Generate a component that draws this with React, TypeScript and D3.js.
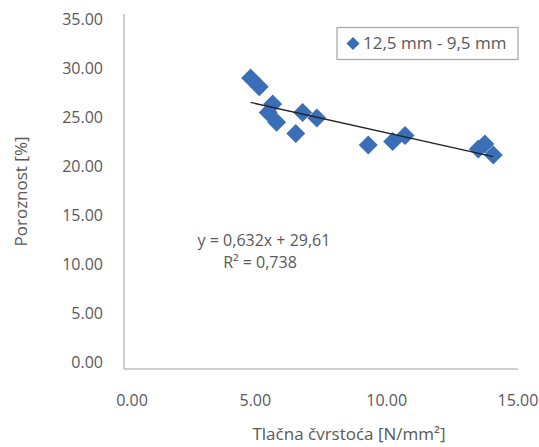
import React from "react";
import * as d3 from "d3";

// Compressive strength [N/mm²] vs. porosity [%]
const strength = [4.82, 5.15, 5.66, 5.49, 5.81, 6.8, 7.34, 6.54, 9.3, 10.23, 10.7, 13.49, 13.74, 14.06];
const porosity = [28.68, 27.83, 26.13, 25.3, 24.32, 25.3, 24.75, 23.23, 22.09, 22.42, 23.01, 21.7, 22.19, 21.11];

const xTicks = [0, 5, 10, 15];
const yTicks = [0, 5, 10, 15, 20, 25, 30, 35];

const seriesName = "12,5 mm - 9,5 mm";
const equationText = "y = 0,632x + 29,61";
const r2Text = "R² = 0,738";
const xTitle = "Tlačna čvrstoća [N/mm²]";
const yTitle = "Poroznost [%]";

const W = 539;
const H = 447;
const FONT = "'Open Sans', 'Noto Sans', sans-serif";
const TEXT = "#595959";
const AXIS = "#bfbfbf";
const BLUE = "#3a6fb7";

export default function App() {
  const x = d3.scaleLinear().domain([0, 15]).range([124, 518]);
  const y = d3.scaleLinear().domain([0, 35]).range([369, 14]);
  // tick labels sit on a slightly tighter band than the axis line
  const yLabel = d3.scaleLinear().domain([0, 35]).range([362, 19]);
  const fmt = d3.format(".2f");

  // least-squares trend line across the data range
  const n = strength.length;
  const mx = d3.mean(strength) as number;
  const my = d3.mean(porosity) as number;
  let sxy = 0;
  let sxx = 0;
  for (let i = 0; i < n; i++) {
    sxy += (strength[i] - mx) * (porosity[i] - my);
    sxx += (strength[i] - mx) ** 2;
  }
  const slope = sxy / sxx;
  const intercept = my - slope * mx;
  const [x0, x1] = d3.extent(strength) as [number, number];
  const trend = d3.line<number>()
    .x((d) => x(d))
    .y((d) => y(intercept + slope * d))([x0, x1]) as string;

  const diamond = d3.symbol().type(d3.symbolDiamond2).size(230)() as string;
  const legendDiamond = d3.symbol().type(d3.symbolDiamond2).size(110)() as string;

  return (
    <div style={{ position: "fixed", left: 0, top: 0 }}>
      <svg width={W} height={H} style={{ display: "block", background: "#fff" }} fontFamily={FONT}>
        {/* axes */}
        <line x1={x(0)} x2={x(0)} y1={y(35)} y2={y(0)} stroke={AXIS} strokeWidth={1.5} />
        <line x1={x(0)} x2={x(15)} y1={y(0)} y2={y(0)} stroke={AXIS} strokeWidth={1.5} />

        {yTicks.map((t) => (
          <text key={"y" + t} x={103} y={yLabel(t)} dy="0.35em" textAnchor="end" fontSize={16} fill={TEXT}>
            {fmt(t)}
          </text>
        ))}
        {xTicks.map((t) => (
          <text key={"x" + t} x={x(t) + (t === 0 ? 8 : 0)} y={400} dy="0.35em" textAnchor="middle" fontSize={16} fill={TEXT}>
            {fmt(t)}
          </text>
        ))}

        <text
          transform={`translate(21,${(y(0) + y(35)) / 2}) rotate(-90)`}
          textAnchor="middle"
          dy="0.35em"
          fontSize={17}
          fill={TEXT}
        >
          {yTitle}
        </text>
        <text x={349} y={434} dy="0.35em" textAnchor="middle" fontSize={17} fill={TEXT}>
          {xTitle}
        </text>

        {/* points */}
        {strength.map((s, i) => (
          <path key={i} d={diamond} transform={`translate(${x(s)},${y(porosity[i])})`} fill={BLUE} />
        ))}

        {/* trend line */}
        <path d={trend} stroke="#222" strokeWidth={1.3} fill="none" />

        {/* equation */}
        <text x={264} y={240} dy="0.35em" textAnchor="middle" fontSize={16} fill={TEXT}>
          {equationText}
        </text>
        <text x={260} y={262} dy="0.35em" textAnchor="middle" fontSize={16} fill={TEXT}>
          {r2Text}
        </text>

        {/* legend */}
        <rect x={337} y={27.5} width={181} height={32} fill="#fff" stroke="#a6a6a6" strokeWidth={1.2} />
        <path d={legendDiamond} transform="translate(353,43.5)" fill={BLUE} />
        <text x={363} y={43.5} dy="0.35em" fontSize={17} fill={TEXT}>
          {seriesName}
        </text>
      </svg>
    </div>
  );
}
